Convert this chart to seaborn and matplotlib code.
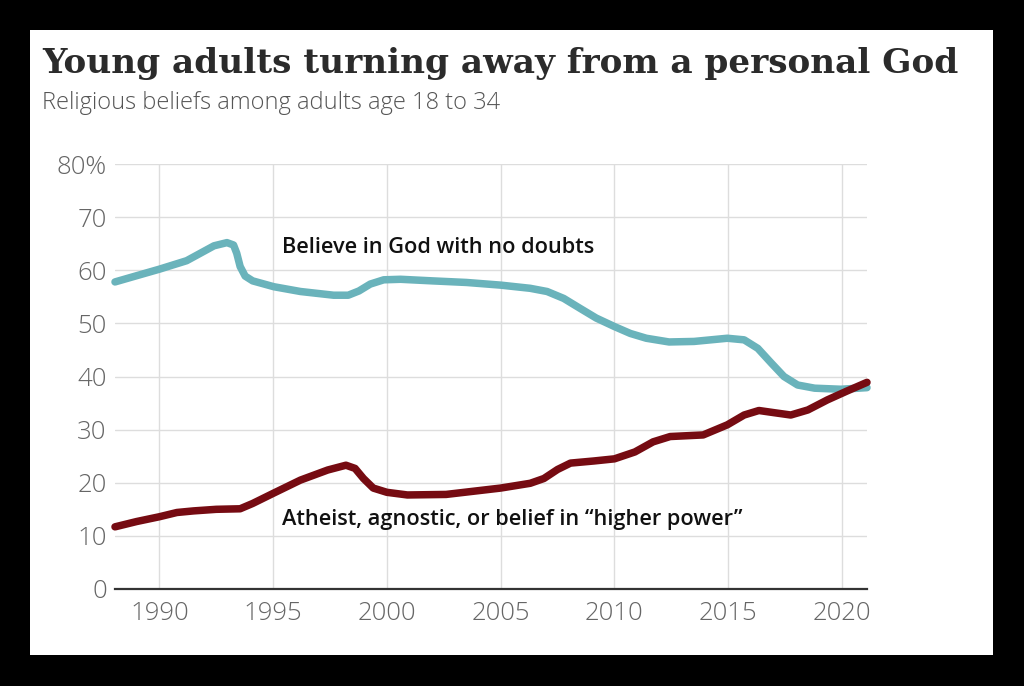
import numpy as np
import pandas as pd
import seaborn as sns
import matplotlib
matplotlib.use("Agg")
from matplotlib import pyplot as plt
from matplotlib.patches import Rectangle

# values
god_years = [1988.05, 1988.86, 1990, 1991.2, 1991.8, 1992.4, 1992.97, 1993.26, 1993.4,
             1993.55, 1993.77, 1994.1, 1995.03, 1996.2, 1997.66, 1998.3, 1998.77,
             1999.27, 1999.86, 2000.6, 2002, 2003.5, 2005, 2006.3, 2007.04, 2007.77,
             2008.5, 2009.2, 2010, 2010.7, 2011.4, 2012.4, 2013.5, 2014.96, 2015.7,
             2016.3, 2016.9, 2017.45, 2018.05, 2018.8, 2019.95, 2021.1]
god_vals = [57.8, 58.8, 60.2, 61.8, 63.2, 64.6, 65.2, 64.75, 63.2,
            60.7, 58.9, 58.0, 56.9, 56.0, 55.3, 55.3, 56.1,
            57.4, 58.2, 58.3, 58.0, 57.7, 57.2, 56.6, 56.0, 54.7,
            52.8, 51.0, 49.4, 48.1, 47.2, 46.5, 46.6, 47.2, 46.9,
            45.3, 42.5, 40.0, 38.4, 37.8, 37.6, 37.9]

none_years = [1988.05, 1989.0, 1990, 1990.77, 1991.5, 1992.5, 1993.55, 1994.1, 1995.0,
              1996.2, 1997.4, 1998.2, 1998.6, 1998.97, 1999.4, 2000, 2000.9, 2002.6,
              2005, 2006.3, 2006.9, 2007.5, 2008.07, 2009.1, 2010, 2010.9, 2011.7,
              2012.45, 2013.9, 2014.96, 2015.7, 2016.35, 2017.0, 2017.75, 2018.5,
              2019.36, 2020.24, 2021.1]
none_vals = [11.7, 12.7, 13.6, 14.4, 14.7, 15.0, 15.1, 16.1, 18.0,
             20.5, 22.4, 23.3, 22.7, 20.8, 19.0, 18.2, 17.7, 17.8,
             19.0, 19.9, 20.8, 22.5, 23.7, 24.1, 24.5, 25.8, 27.7,
             28.7, 29.0, 30.9, 32.75, 33.6, 33.2, 32.75, 33.7,
             35.6, 37.3, 38.9]

x_ticks = [1990, 1995, 2000, 2005, 2010, 2015, 2020]
y_ticks = [0, 10, 20, 30, 40, 50, 60, 70, 80]
y_labels = ["0", "10", "20", "30", "40", "50", "60", "70", "80%"]

BLUE = "#6ab3bb"
RED = "#760b12"

sns.set_style("whitegrid")
plt.rcParams["font.family"] = ["Open Sans", "DejaVu Sans"]

fig = plt.figure(figsize=(10.24, 6.86), dpi=100, facecolor="black")
fig.patches.append(Rectangle((30 / 1024, 31 / 686), 963 / 1024, 625 / 686,
                             transform=fig.transFigure, facecolor="white",
                             edgecolor="none", zorder=-5))

ax = fig.add_axes([115 / 1024, 97 / 686, 752 / 1024, 425 / 686])
ax.set_facecolor("white")

god = pd.DataFrame({"year": god_years, "value": god_vals})
none = pd.DataFrame({"year": none_years, "value": none_vals})
sns.lineplot(data=god, x="year", y="value", ax=ax, color=BLUE, linewidth=5.4,
             solid_capstyle="round", solid_joinstyle="round", clip_on=False)
sns.lineplot(data=none, x="year", y="value", ax=ax, color=RED, linewidth=5.4,
             solid_capstyle="round", solid_joinstyle="round", clip_on=False)

ax.set_xlim(1988.05, 2021.1)
ax.set_ylim(0, 80)
ax.set_xticks(x_ticks)
ax.set_yticks(y_ticks)
ax.set_yticklabels(y_labels)
ax.set_xlabel("")
ax.set_ylabel("")
ax.grid(True, color="#dddddd", linewidth=1)
for s in ["top", "right", "left"]:
    ax.spines[s].set_visible(False)
ax.spines["bottom"].set_color("#333333")
ax.spines["bottom"].set_linewidth(1.6)
ax.tick_params(axis="both", length=0, labelsize=18.5, labelcolor="#666666")
ax.tick_params(axis="x", pad=9)
ax.tick_params(axis="y", pad=6)
for lab in ax.get_xticklabels() + ax.get_yticklabels():
    lab.set_fontweight("light")

ax.text(1995.4, 63.3, "Believe in God with no doubts", fontsize=15.7,
        fontweight="semibold", color="#111111", va="baseline")
ax.text(1995.4, 12.05, "Atheist, agnostic, or belief in \u201chigher power\u201d",
        fontsize=15.7, fontweight="semibold", color="#111111", va="baseline")

fig.text(42 / 1024, 1 - 73 / 686, "Young adults turning away from a personal God",
         family="DejaVu Serif", fontweight="bold", fontsize=24.7, color="#2b2b2b",
         va="baseline")
fig.text(42 / 1024, 1 - 109 / 686, "Religious beliefs among adults age 18 to 34",
         fontsize=17, fontweight="light", color="#555555", va="baseline")

fig.savefig("out.png", dpi=100, facecolor="black")
